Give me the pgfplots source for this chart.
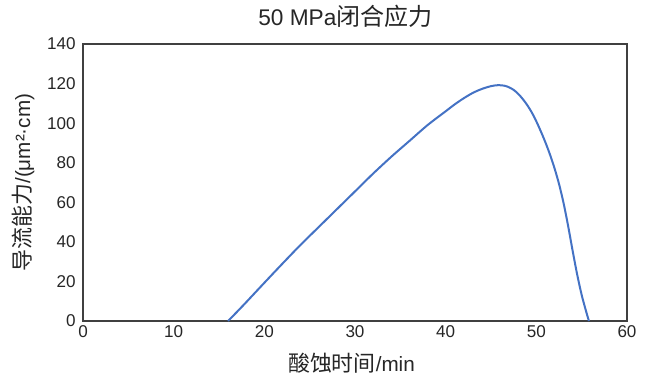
\documentclass[border=0pt]{standalone}
\usepackage{fontspec}
\setmainfont{Liberation Sans}
\newfontfamily\cjk[Scale=1.06]{Noto Sans CJK SC}
\usepackage{pgfplots}
\pgfplotsset{compat=1.18}
\definecolor{lineblue}{HTML}{4472C4}
\definecolor{txt}{HTML}{262626}
\begin{document}
\begin{tikzpicture}[x=0.75pt,y=0.75pt]
\path[use as bounding box] (0,0) rectangle (646,376);
\begin{axis}[
  at={(83*0.75pt,55*0.75pt)}, anchor=south west,
  scale only axis, width=408pt, height=207.75pt,
  xmin=0, xmax=60, ymin=0, ymax=140,
  xtick={0,10,...,60}, ytick={0,20,...,140},
  major tick length=0pt,
  axis line style={black!75, line width=0.8pt},
  tick label style={font=\fontsize{12.8}{14}\selectfont, text=txt},
  yticklabel style={xshift=-2pt},
  /pgf/number format/assume math mode=true,
  title={50 MPa{\cjk 闭合应力}},
  title style={at={(axis description cs:0.4825,1.07)}, anchor=center, font=\fontsize{17}{19}\selectfont, text=txt},
  xlabel={{\cjk 酸蚀时间}/min},
  xlabel style={at={(axis description cs:0.4935,-0.152)}, anchor=center, font=\fontsize{15.5}{18}\selectfont, text=txt},
  ylabel={{\cjk 导流能力}/(μm²·cm)},
  ylabel style={at={(axis description cs:-0.11,0.5)}, anchor=center, font=\fontsize{15.5}{17}\selectfont, text=txt},
  clip=false,
]
\addplot[lineblue, line width=1.5pt, smooth, tension=0.5] coordinates {
(16,0) (17,4.7) (18,9.5) (20,19.3) (22,29) (24,38.5) (26,47.5) (28,56.5) (30,65.5)
(32,74.5) (34,83) (36,91) (38,99) (40,106) (41,109.5) (42,112.6) (43,115.3) (44,117.3)
(45,118.7) (45.8,119.2) (46.5,118.9) (47,118.1) (47.5,116.8) (48,114.8) (48.5,112.2)
(49,109.1) (49.5,105.4) (50,100.9) (50.5,95.8) (51,90.3) (51.5,84.2) (52,77.3)
(52.5,69.3) (53,59.7) (53.5,48.2) (54,35.6) (54.5,23.6) (55,13.2) (55.5,4.7) (55.8,0)
};
\end{axis}
\end{tikzpicture}
\end{document}
